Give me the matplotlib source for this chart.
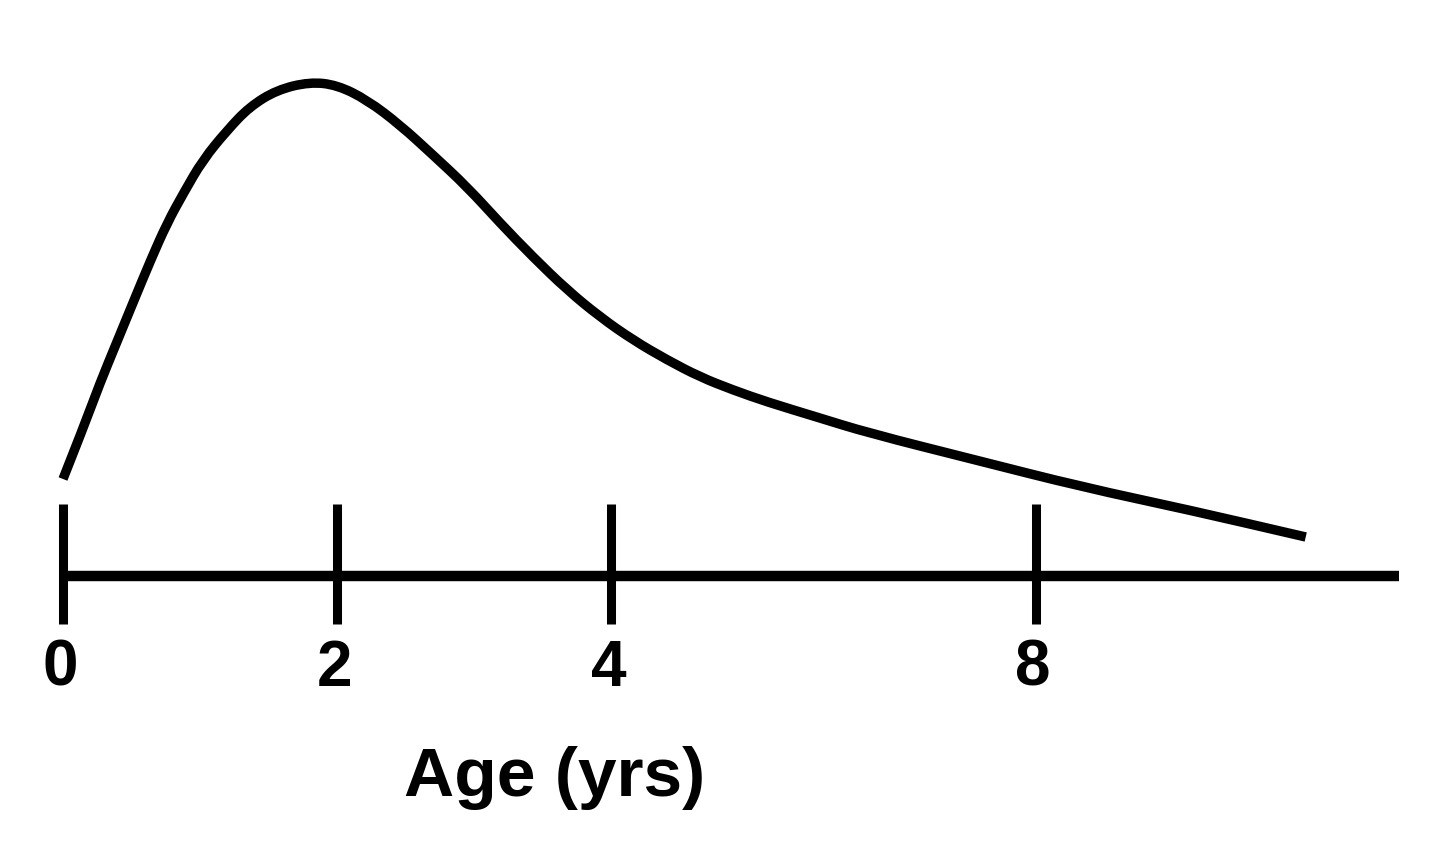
import matplotlib
matplotlib.use("Agg")
import matplotlib.pyplot as plt
from matplotlib.path import Path
from matplotlib.patches import PathPatch
import numpy as np

# curve: position along the axis and height above it
curve_x = [0.00, 0.15, 0.27, 0.39, 0.51, 0.64, 0.76, 0.88, 1.02, 1.20, 1.36,
           1.56, 1.80, 2.00, 2.22, 2.46, 2.70, 2.95, 3.19, 3.43, 3.68, 3.92,
           4.16, 4.41, 4.65, 4.89, 5.14, 5.50, 5.88, 6.66, 7.44, 8.22, 9.07]
curve_y = [0.97, 1.49, 1.93, 2.33, 2.73, 3.16, 3.53, 3.83, 4.16, 4.46, 4.69,
           4.86, 4.94, 4.91, 4.76, 4.51, 4.21, 3.89, 3.53, 3.19, 2.86, 2.59,
           2.36, 2.16, 1.99, 1.86, 1.74, 1.59, 1.43, 1.16, 0.89, 0.66, 0.39]

tick_pos = [0, 2, 4, 7.1]
tick_labels = ["0", "2", "4", "8"]
axis_end = 9.75
xlabel = "Age (yrs)"

plt.rcParams['font.family'] = ['Liberation Sans', 'DejaVu Sans']

fig = plt.figure(figsize=(14.4, 8.52), dpi=100)
ax = fig.add_axes([0, 0, 1, 1])
ax.set_xlim(-0.46, 10.05)
ax.set_ylim(-2.76, 5.76)
ax.axis("off")

# curve: read points used as quadratic bezier controls so the stroke is smooth
pts = np.column_stack([curve_x, curve_y])
verts = [pts[0]]
codes = [Path.MOVETO]
for i in range(1, len(pts) - 1):
    verts += [pts[i], (pts[i] + pts[i + 1]) / 2]
    codes += [Path.CURVE3, Path.CURVE3]
verts.append(pts[-1])
codes.append(Path.LINETO)
curve = PathPatch(Path(verts, codes), fill=False, ec="k", lw=6.8,
                  capstyle="butt", joinstyle="round")
ax.add_patch(curve)

# axis line + ticks
ax.hlines(0, 0, axis_end, colors="k", lw=7.5)
ax.vlines(tick_pos, -0.48, 0.72, colors="k", lw=6.5)
for p, lab in zip(tick_pos, tick_labels):
    ax.text(p - 0.02, -0.93, lab, ha="center", va="center",
            fontsize=46, fontweight="bold")

ax.text(3.59, -2.02, xlabel, ha="center", va="center",
        fontsize=50, fontweight="bold")

fig.savefig("out.png", dpi=100, facecolor="white")
